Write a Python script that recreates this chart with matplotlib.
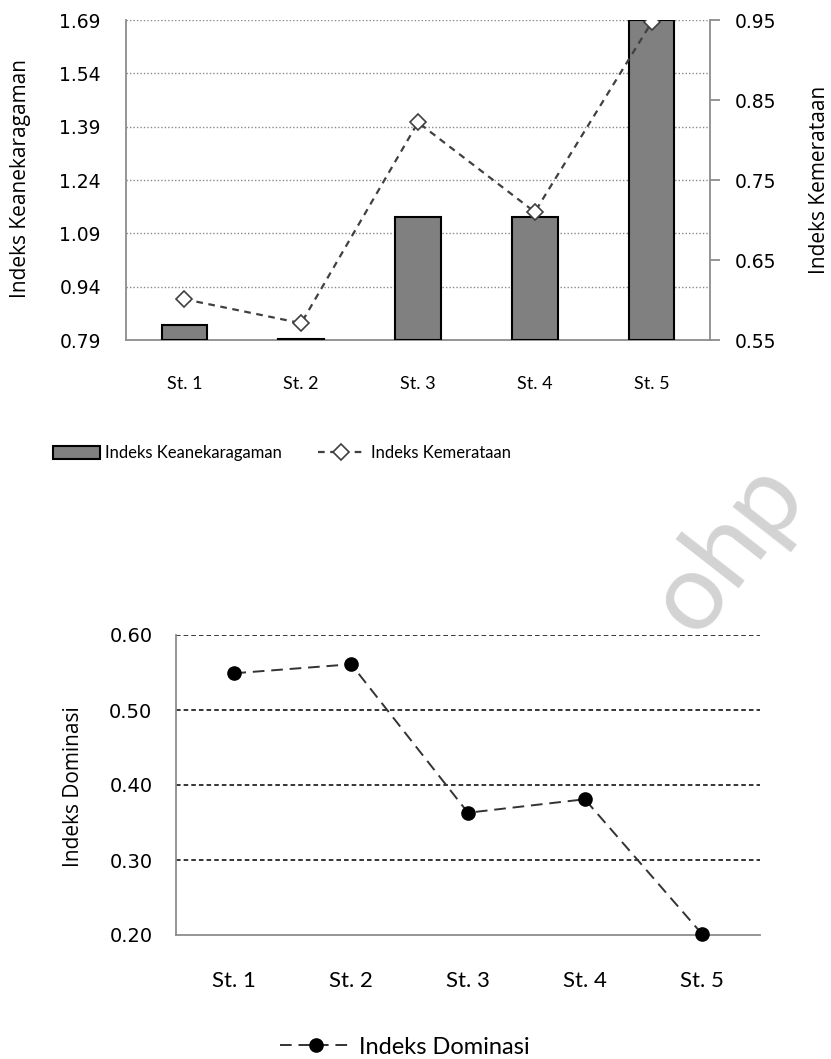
import numpy as np
import matplotlib.pyplot as plt

plt.rcParams['font.family'] = ['Lato', 'DejaVu Sans']

stations = ['St. 1', 'St. 2', 'St. 3', 'St. 4', 'St. 5']
keanekaragaman = [0.832, 0.793, 1.137, 1.137, 1.69]
kemerataan = [0.601, 0.571, 0.822, 0.710, 0.947]
dominasi = [0.549, 0.561, 0.363, 0.381, 0.202]

left_ticks = [0.79, 0.94, 1.09, 1.24, 1.39, 1.54, 1.69]
right_ticks = [0.55, 0.65, 0.75, 0.85, 0.95]
dom_ticks = [0.20, 0.30, 0.40, 0.50, 0.60]

W, H = 831, 1059
fig = plt.figure(figsize=(W / 100, H / 100), dpi=100)
num_font = 'DejaVu Sans'
lab_font = 'Open Sans'

# watermark
fig.text(728 / W, 1 - 548 / H, 'ohp', fontsize=78, color='#d3d3d3', rotation=52,
         ha='center', va='center', zorder=0)

x = np.arange(len(stations))

# ---- top chart
ax1 = fig.add_axes([126 / W, 1 - 340 / H, 584 / W, 320 / H])
ax1.bar(x, [v - 0.79 for v in keanekaragaman], bottom=0.79, width=0.39,
        color='#808080', edgecolor='black', linewidth=1.5, zorder=3,
        label='Indeks Keanekaragaman')
ax1.set_xlim(-0.5, 4.5)
ax1.set_ylim(0.79, 1.69)
ax1.set_yticks(left_ticks)
ax1.set_yticklabels(['%.2f' % t for t in left_ticks], fontfamily=num_font)
ax1.set_xticks(x)
ax1.set_xticklabels(stations)
for t in left_ticks[1:]:
    ax1.axhline(t, color='#8a8a8a', linestyle=(0, (1, 1.5)), linewidth=1, zorder=1)
ax1.tick_params(axis='y', length=0, pad=18, labelsize=13.5)
ax1.tick_params(axis='x', length=0, pad=26, labelsize=13)
for s in ['top', 'right']:
    ax1.spines[s].set_visible(False)
for s in ['left', 'bottom']:
    ax1.spines[s].set_color('#8c8c8c')
    ax1.spines[s].set_linewidth(1.3)
ax1.set_ylabel('Indeks Keanekaragaman', fontsize=15, fontfamily=lab_font)
ax1.yaxis.set_label_coords(-0.162, 0.505)

ax2 = ax1.twinx()
ax2.plot(x, kemerataan, color='#404040', linestyle=(0, (3, 2.5)), linewidth=1.6,
         marker='D', markersize=8.5, markerfacecolor='white',
         markeredgecolor='#404040', markeredgewidth=1.2, zorder=4,
         label='Indeks Kemerataan')
ax2.set_ylim(0.55, 0.95)
ax2.set_yticks(right_ticks)
ax2.set_yticklabels(['%.2f' % t for t in right_ticks], fontfamily=num_font)
ax2.tick_params(axis='y', length=7, width=1.3, color='#8c8c8c', pad=11, labelsize=13.5)
for s in ['top', 'left', 'bottom']:
    ax2.spines[s].set_visible(False)
ax2.spines['right'].set_color('#8c8c8c')
ax2.spines['right'].set_linewidth(1.3)
ax2.set_ylabel('Indeks Kemerataan', fontsize=15, fontfamily=lab_font)
ax2.yaxis.set_label_coords(1.169, 0.5)

h1, l1 = ax1.get_legend_handles_labels()
h2, l2 = ax2.get_legend_handles_labels()
fig.legend(h1, l1, loc='center left', bbox_to_anchor=(53 / W, 1 - 453 / H),
           frameon=False, fontsize=12, handlelength=2.8, handleheight=0.85,
           handletextpad=0.3, borderaxespad=0, borderpad=0)
fig.legend(h2, l2, loc='center left', bbox_to_anchor=(318 / W, 1 - 453 / H),
           frameon=False, fontsize=12, handlelength=2.8, handletextpad=0.4,
           borderaxespad=0, borderpad=0)

# ---- bottom chart
ax3 = fig.add_axes([176 / W, 1 - 935 / H, 584 / W, 300 / H])
ax3.plot(x, dominasi, color='#333333', linestyle=(0, (6, 3.5)), linewidth=1.4,
         marker='o', markersize=9.5, markerfacecolor='black',
         markeredgecolor='black', zorder=4, clip_on=False, label='Indeks Dominasi')
ax3.set_xlim(-0.5, 4.5)
ax3.set_ylim(0.20, 0.60)
ax3.set_yticks(dom_ticks)
ax3.set_yticklabels(['%.2f' % t for t in dom_ticks], fontfamily=num_font)
ax3.set_xticks(x)
ax3.set_xticklabels(stations)
for t in dom_ticks[1:]:
    ax3.axhline(t, color='black', linestyle=(0, (3, 2)), linewidth=1.1, zorder=1)
ax3.tick_params(axis='y', length=0, pad=17, labelsize=14)
ax3.tick_params(axis='x', length=0, pad=26, labelsize=16)
for s in ['top', 'right']:
    ax3.spines[s].set_visible(False)
for s in ['left', 'bottom']:
    ax3.spines[s].set_color('#8c8c8c')
    ax3.spines[s].set_linewidth(1.3)
ax3.set_ylabel('Indeks Dominasi', fontsize=15, fontfamily=lab_font)
ax3.yaxis.set_label_coords(-0.158, 0.493)

fig.legend(*ax3.get_legend_handles_labels(), loc='center',
           bbox_to_anchor=(405 / W, 1 - 1047 / H), frameon=False, fontsize=17,
           handlelength=3.0, handletextpad=0.35, borderaxespad=0, borderpad=0)

fig.savefig('out.png', dpi=100)
